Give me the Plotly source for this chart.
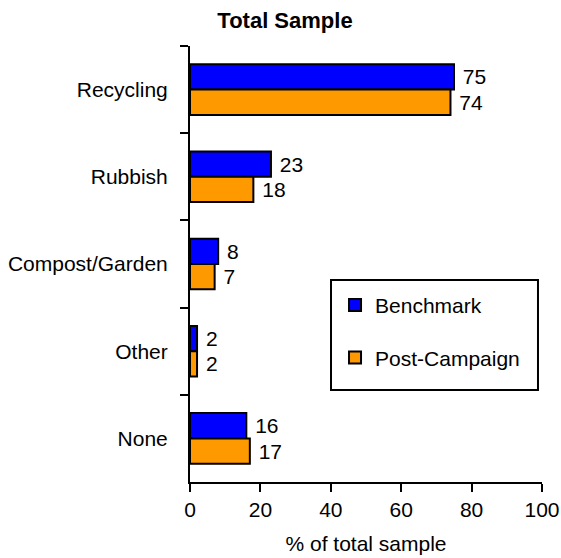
import plotly.graph_objects as go

categories = ["Recycling", "Rubbish", "Compost/Garden", "Other", "None"]
benchmark = [75, 23, 8, 2, 16]
post_campaign = [74, 18, 7, 2, 17]
x_ticks = [0, 20, 40, 60, 80, 100]

FONT = "Liberation Sans, Arial, sans-serif"
FS = 21

fig = go.Figure()
fig.add_trace(go.Bar(
    y=categories, x=benchmark, orientation="h", name="Benchmark",
    marker=dict(color="#0000FF", line=dict(color="black", width=2)),
    text=benchmark, texttemplate=" %{text}", textposition="outside", cliponaxis=False,
    textfont=dict(size=FS, color="black", family=FONT),
    legendgroup="a",
))
fig.add_trace(go.Bar(
    y=categories, x=post_campaign, orientation="h", name="Post-Campaign",
    marker=dict(color="#FF9900", line=dict(color="black", width=2)),
    text=post_campaign, texttemplate=" %{text}", textposition="outside", cliponaxis=False,
    textfont=dict(size=FS, color="black", family=FONT),
    legendgroup="b",
))

# legend frame
fig.add_shape(type="rect", xref="paper", yref="paper",
              x0=0.4006, x1=0.9886, y0=0.211, y1=0.4633,
              line=dict(color="black", width=2), fillcolor="rgba(0,0,0,0)")

fig.update_layout(
    width=561, height=558,
    margin=dict(l=190, r=19, t=46, b=76, autoexpand=False),
    paper_bgcolor="white", plot_bgcolor="white",
    font=dict(family=FONT, size=FS, color="black"),
    barmode="group", bargap=0.42, bargroupgap=0,
    title=dict(text="<b>Total Sample</b>", x=0.508, xanchor="center",
               y=1 - 20 / 558, yanchor="middle", font=dict(size=22, family=FONT)),
    showlegend=True,
    legend=dict(x=0.412, y=0.452, xanchor="left", yanchor="top",
                borderwidth=0, bgcolor="rgba(0,0,0,0)", itemwidth=30,
                tracegroupgap=22, font=dict(size=FS, family=FONT),
                traceorder="grouped"),
    xaxis=dict(range=[0, 100], tickvals=x_ticks, showgrid=False, zeroline=False,
               showline=True, linecolor="black", linewidth=2, automargin=False,
               ticks="outside", ticklen=8, tickwidth=2, tickcolor="black",
               title=dict(text="% of total sample", font=dict(size=FS), standoff=16),
               tickfont=dict(size=FS)),
    yaxis=dict(autorange="reversed", type="category", showgrid=False, zeroline=False,
               showline=True, linecolor="black", linewidth=2, automargin=False,
               ticks="outside", ticklen=8, tickwidth=2, tickcolor="black",
               tickson="boundaries", ticklabelstandoff=16, tickfont=dict(size=FS)),
)

fig.write_html(
    "out.html",
    config={"displayModeBar": False},
    post_script="document.body.style.margin='0';document.body.style.overflow='hidden';",
)
